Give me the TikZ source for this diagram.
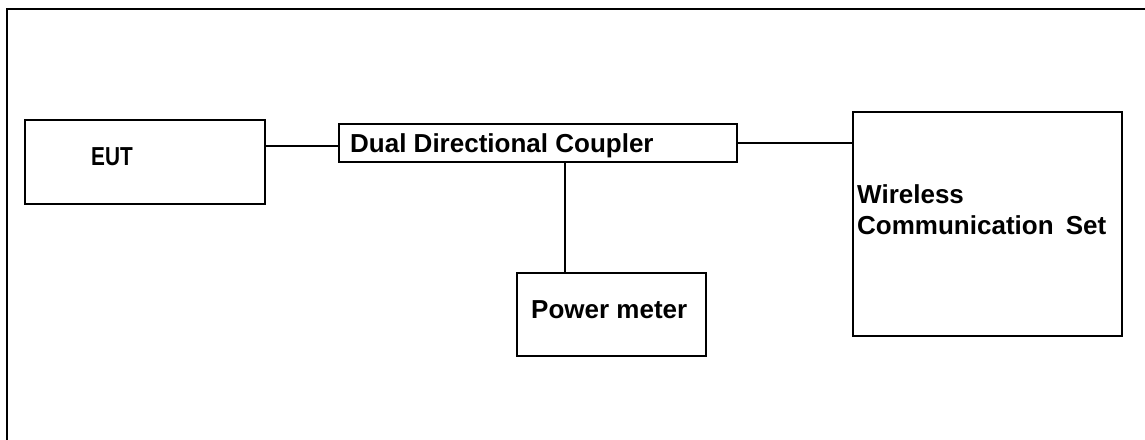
\documentclass[tikz,border=0pt]{standalone}
\usepackage{fontspec}
\setmainfont{Liberation Sans}
\begin{document}
\begin{tikzpicture}[x=1pt,y=-1pt,
  box/.style={draw=black,line width=1.6pt,rectangle,inner sep=0pt},
  conn/.style={draw=black,line width=1.6pt},
  lbl/.style={anchor=base west,inner sep=0pt,font=\fontsize{26}{31}\selectfont\bfseries}]
\useasboundingbox (0,0) rectangle (1145,439);
% outer frame
\draw[line width=2.4pt] (7,441) -- (7,9) -- (1147,9);
% boxes
\node[box,minimum width=240pt,minimum height=84pt] (eut) at (145,162) {};
\node[box,minimum width=398pt,minimum height=38pt] (ddc) at (538,143) {};
\node[box,minimum width=189pt,minimum height=83pt] (pm) at (611.5,314.5) {};
\node[box,minimum width=269pt,minimum height=224pt] (wcs) at (987.5,224) {};
% texts
\node[lbl] (eutT) at (91,165) {\scalebox{0.8}[1]{EUT}};
\node[lbl] (ddcT) at (350,152) {Dual Directional Coupler};
\node[lbl] (pmT) at (531,318) {Power meter};
\node[lbl] (wcsT1) at (857,203) {Wireless};
\node[lbl] (wcsT2) at (857,234) {Communication\hspace{5pt} Set};
% connectors
\draw[conn] ([yshift=-3pt]ddc.west) -- ([yshift=-3pt]ddc.west -| eut.east);
\draw[conn] (ddc.east) -- (ddc.east -| wcs.west);
\draw[conn] ([xshift=27pt]ddc.south) -- ([xshift=27pt]ddc.south |- pm.north);
\end{tikzpicture}
\end{document}
